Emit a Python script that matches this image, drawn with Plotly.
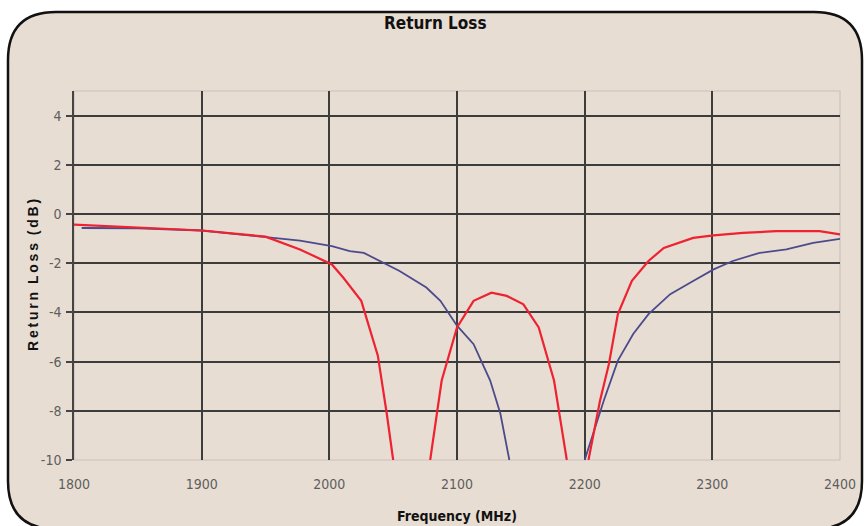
import plotly.graph_objects as go

# ---- data ----
red_freq = [1800, 1850, 1900, 1950, 1977, 2002, 2011, 2025, 2038, 2045, 2050, None,
            2079, 2088, 2100, 2113, 2127, 2139, 2152, 2164, 2176, 2186, None,
            2203, 2212, 2219, 2226, 2237, 2250, 2262, 2285, 2301, 2324, 2350, 2384, 2400]
red_rl = [-0.43, -0.55, -0.67, -0.92, -1.44, -2.05, -2.59, -3.53, -5.76, -8.12, -10, None,
          -10, -6.77, -4.61, -3.53, -3.2, -3.33, -3.67, -4.61, -6.77, -10, None,
          -10, -7.59, -6.1, -4.07, -2.72, -1.91, -1.38, -0.97, -0.87, -0.77, -0.70, -0.70, -0.83]

blue_freq = [1806, 1850, 1900, 1946, 1977, 2002, 2016, 2027, 2042, 2055, 2076, 2087, 2100,
             2113, 2126, 2134, 2141, None,
             2200, 2215, 2226, 2238, 2250, 2267, 2285, 2301, 2316, 2337, 2358, 2379, 2400]
blue_rl = [-0.57, -0.58, -0.67, -0.9, -1.08, -1.31, -1.51, -1.58, -1.98, -2.32, -2.99, -3.53, -4.54,
           -5.29, -6.77, -8.12, -10, None,
           -10, -7.58, -5.96, -4.88, -4.07, -3.26, -2.72, -2.25, -1.91, -1.58, -1.44, -1.17, -1.01]

x_ticks = [1800, 1900, 2000, 2100, 2200, 2300, 2400]
y_ticks = [-10, -8, -6, -4, -2, 0, 2, 4]

W, H = 864, 526
L, R, T, B = 74, 840, 91, 460
BEIGE = "#e8ddd3"
NARROW = "DejaVu Sans Condensed, Liberation Sans Narrow, Arial Narrow, Liberation Sans, sans-serif"


def px(xp):
    return (xp - L) / (R - L)


def py(yp):
    return (B - yp) / (B - T)


fig = go.Figure()
fig.add_trace(go.Scatter(x=blue_freq, y=blue_rl, mode="lines", connectgaps=False,
                         line=dict(color="#4b4b8c", width=1.8), showlegend=False))
fig.add_trace(go.Scatter(x=red_freq, y=red_rl, mode="lines", connectgaps=False,
                         line=dict(color="#ee2230", width=2.2), showlegend=False))

# rounded frame
x0, y0, x1, y1, r = 8, 12, 862, 529, 48
path = (f"M {px(x0)},{py(y0 + r)} "
        f"Q {px(x0)},{py(y0)} {px(x0 + r)},{py(y0)} "
        f"L {px(x1 - r)},{py(y0)} "
        f"Q {px(x1)},{py(y0)} {px(x1)},{py(y0 + r)} "
        f"L {px(x1)},{py(y1 - r)} "
        f"Q {px(x1)},{py(y1)} {px(x1 - r)},{py(y1)} "
        f"L {px(x0 + r)},{py(y1)} "
        f"Q {px(x0)},{py(y1)} {px(x0)},{py(y1 - r)} Z")
fig.add_shape(type="path", path=path, xref="paper", yref="paper",
              fillcolor=BEIGE, line=dict(color="#111111", width=2.5), layer="below")
# light plot-area border
fig.add_shape(type="rect", x0=0, x1=1, y0=0, y1=1, xref="paper", yref="paper",
              line=dict(color="#c9c1b9", width=1.2), layer="below")

fig.update_layout(
    width=W, height=H,
    margin=dict(l=L, r=W - R, t=T, b=H - B, autoexpand=False),
    paper_bgcolor="white",
    plot_bgcolor="rgba(0,0,0,0)",
    font=dict(family=NARROW, size=13, color="#5e5e5e"),
    showlegend=False,
)
fig.update_xaxes(range=[1800, 2400], tickvals=x_ticks, ticktext=[str(v) for v in x_ticks],
                 showgrid=True, gridcolor="#3c3c3c", gridwidth=1.5,
                 zeroline=False, showline=False, ticks="", ticklabelstandoff=14,
                 tickfont=dict(family=NARROW, size=14, color="#5e5e5e"))
fig.update_yaxes(range=[-10, 5], tickvals=y_ticks, ticktext=[str(v) for v in y_ticks],
                 showgrid=True, gridcolor="#3c3c3c", gridwidth=1.5,
                 zeroline=False, showline=True, linecolor="#444444", linewidth=1.5,
                 ticks="outside", ticklen=6, tickcolor="#444444", tickwidth=1.5,
                 ticklabelstandoff=2,
                 tickfont=dict(family=NARROW, size=14, color="#5e5e5e"))

# titles
fig.add_annotation(text="Return Loss", x=px(435), y=py(23), xref="paper", yref="paper",
                   showarrow=False, xanchor="center", yanchor="middle",
                   font=dict(family=NARROW, size=17, color="#111111", weight="bold"))
ytitle = "\u2009".join(list("Return")) + "  " + "\u2009".join(list("Loss")) + "  " + "\u2009".join(list("(dB)"))
fig.add_annotation(text=ytitle, x=px(33), y=py(275), xref="paper", yref="paper",
                   showarrow=False, textangle=-90, xanchor="center", yanchor="middle",
                   font=dict(family="Liberation Sans, Arial, sans-serif", size=14, color="#111111", weight="bold"))
fig.add_annotation(text="Frequency (MHz)", x=px(457), y=py(516), xref="paper", yref="paper",
                   showarrow=False, xanchor="center", yanchor="middle",
                   font=dict(family=NARROW, size=14, color="#111111", weight="bold"))

fig.write_html("out.html", config={"displayModeBar": False},
               post_script="document.body.style.margin='0';document.body.style.padding='0';")
